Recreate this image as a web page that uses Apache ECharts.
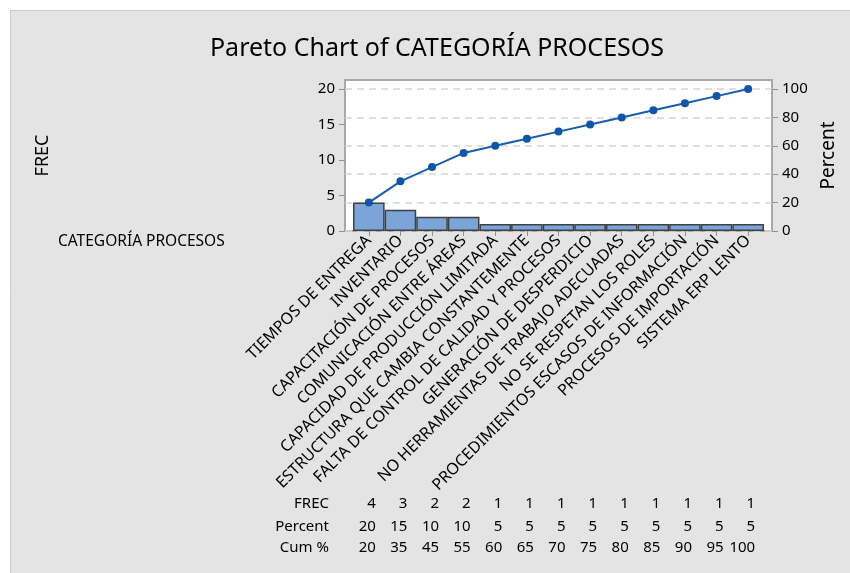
<!DOCTYPE html>
<html><head><meta charset="utf-8">
<script src="https://cdn.jsdelivr.net/npm/echarts@6/dist/echarts.min.js"></script>
<style>html,body{margin:0;padding:0;background:#fff}#c{width:850px;height:573px}</style>
</head><body><div id="c"></div>
<script>
const categories = ['TIEMPOS DE ENTREGA','INVENTARIO','CAPACITACIÓN DE PROCESOS','COMUNICACIÓN ENTRE ÁREAS','CAPACIDAD DE PRODUCCIÓN LIMITADA','ESTRUCTURA QUE CAMBIA CONSTANTEMENTE','FALTA DE CONTROL DE CALIDAD Y PROCESOS','GENERACIÓN DE DESPERDICIO','NO HERRAMIENTAS DE TRABAJO ADECUADAS','NO SE RESPETAN LOS ROLES','PROCEDIMIENTOS ESCASOS DE INFORMACIÓN','PROCESOS DE IMPORTACIÓN','SISTEMA ERP LENTO'];
const freq = [4,3,2,2,1,1,1,1,1,1,1,1,1];
const percent = [20,15,10,10,5,5,5,5,5,5,5,5,5];
const cumPct = [20,35,45,55,60,65,70,75,80,85,90,95,100];
const leftTicks = [0,5,10,15,20];
const rightTicks = [0,20,40,60,80,100];
const rowNames = ['FREC','Percent','Cum %'];

const FONT = 'Noto Sans';
const LMAX = 21.27, RMAX = LMAX * 5;
const chart = echarts.init(document.getElementById('c'), null, {renderer:'canvas'});

function tableAxis(arr, offset) {
  return {
    type:'category', gridIndex:1, position:'bottom', offset: offset, data: categories,
    axisLine:{show:false}, axisTick:{show:false},
    axisLabel:{interval:0, margin:0, align:'right', verticalAlign:'middle', padding:[0,-7,0,0],
      color:'#000', fontFamily:FONT, fontSize:15, formatter:(v,i)=>String(arr[i])}
  };
}

const option = {
  backgroundColor:'#fff',
  animation:false,
  title:{text:'Pareto Chart of CATEGORÍA PROCESOS', left:432, top:31, textAlign:'center',
    textStyle:{fontFamily:FONT, fontSize:25, fontWeight:'normal', color:'#000'}},
  graphic:[
    {type:'rect', z:-10, shape:{x:10.5,y:10.5,width:850,height:573}, style:{fill:'#e4e4e4', stroke:'#cdcdcd', lineWidth:1}},
    {type:'text', left:58, top:234, style:{text:'CATEGORÍA PROCESOS', font:'15.5px "'+FONT+'"', fill:'#000'}},
    ...rowNames.map((t,k)=>({type:'text', x:329, y:[504,527,548][k],
      style:{text:t, font:'15px "'+FONT+'"', fill:'#000', align:'right', verticalAlign:'middle'}}))
  ],
  grid:[
    {left:345, top:80, width:427, height:151, show:true, backgroundColor:'#fff', borderColor:'#a8a8a8', borderWidth:2, outerBoundsMode:'none', containLabel:false},
    {left:353, top:80, width:411, height:151, outerBoundsMode:'none', containLabel:false}
  ],
  xAxis:[
    {type:'value', gridIndex:0, min:0, max:1, show:false},
    {type:'category', gridIndex:1, data:categories, position:'bottom',
      axisLine:{show:false},
      axisTick:{show:true, alignWithLabel:true, length:5, lineStyle:{color:'#909090'}},
      axisLabel:{interval:0, rotate:45, margin:7, color:'#000', fontFamily:FONT, fontSize:16}},
    tableAxis(freq, 273),
    tableAxis(percent, 296),
    tableAxis(cumPct, 317)
  ],
  yAxis:[
    {type:'value', gridIndex:0, position:'left', min:0, max:LMAX,
      name:'FREC', nameLocation:'middle', nameGap:293,
      nameTextStyle:{fontFamily:FONT, fontSize:18, color:'#000'},
      axisLine:{show:false},
      axisTick:{show:true, length:6, customValues:leftTicks, lineStyle:{color:'#909090'}},
      axisLabel:{customValues:leftTicks, margin:10, fontFamily:FONT, fontSize:15, color:'#000'},
      splitLine:{show:false}},
    {type:'value', gridIndex:0, position:'right', min:0, max:RMAX,
      name:'Percent', nameLocation:'middle', nameGap:44,
      nameTextStyle:{fontFamily:FONT, fontSize:19, color:'#000'},
      axisLine:{show:false},
      axisTick:{show:true, length:6, customValues:rightTicks, lineStyle:{color:'#909090'}},
      axisLabel:{customValues:rightTicks, margin:10, fontFamily:FONT, fontSize:15, color:'#000'},
      splitLine:{show:true, lineStyle:{type:[7,5], color:'#d6d6d6', width:1.5}}},
    {type:'value', gridIndex:1, min:0, max:LMAX, show:false},
    {type:'value', gridIndex:1, min:0, max:RMAX, show:false}
  ],
  series:[
    {type:'bar', xAxisIndex:1, yAxisIndex:2, data:freq, barCategoryGap:'0%',
      itemStyle:{color:'#7ba5d9', borderColor:'#404040', borderWidth:1.5}},
    {type:'line', xAxisIndex:1, yAxisIndex:3, data:cumPct, symbol:'circle', symbolSize:8,
      lineStyle:{color:'#1a5cb0', width:2}, itemStyle:{color:'#0f56aa'}, z:5}
  ]
};
chart.setOption(option);
</script></body></html>
